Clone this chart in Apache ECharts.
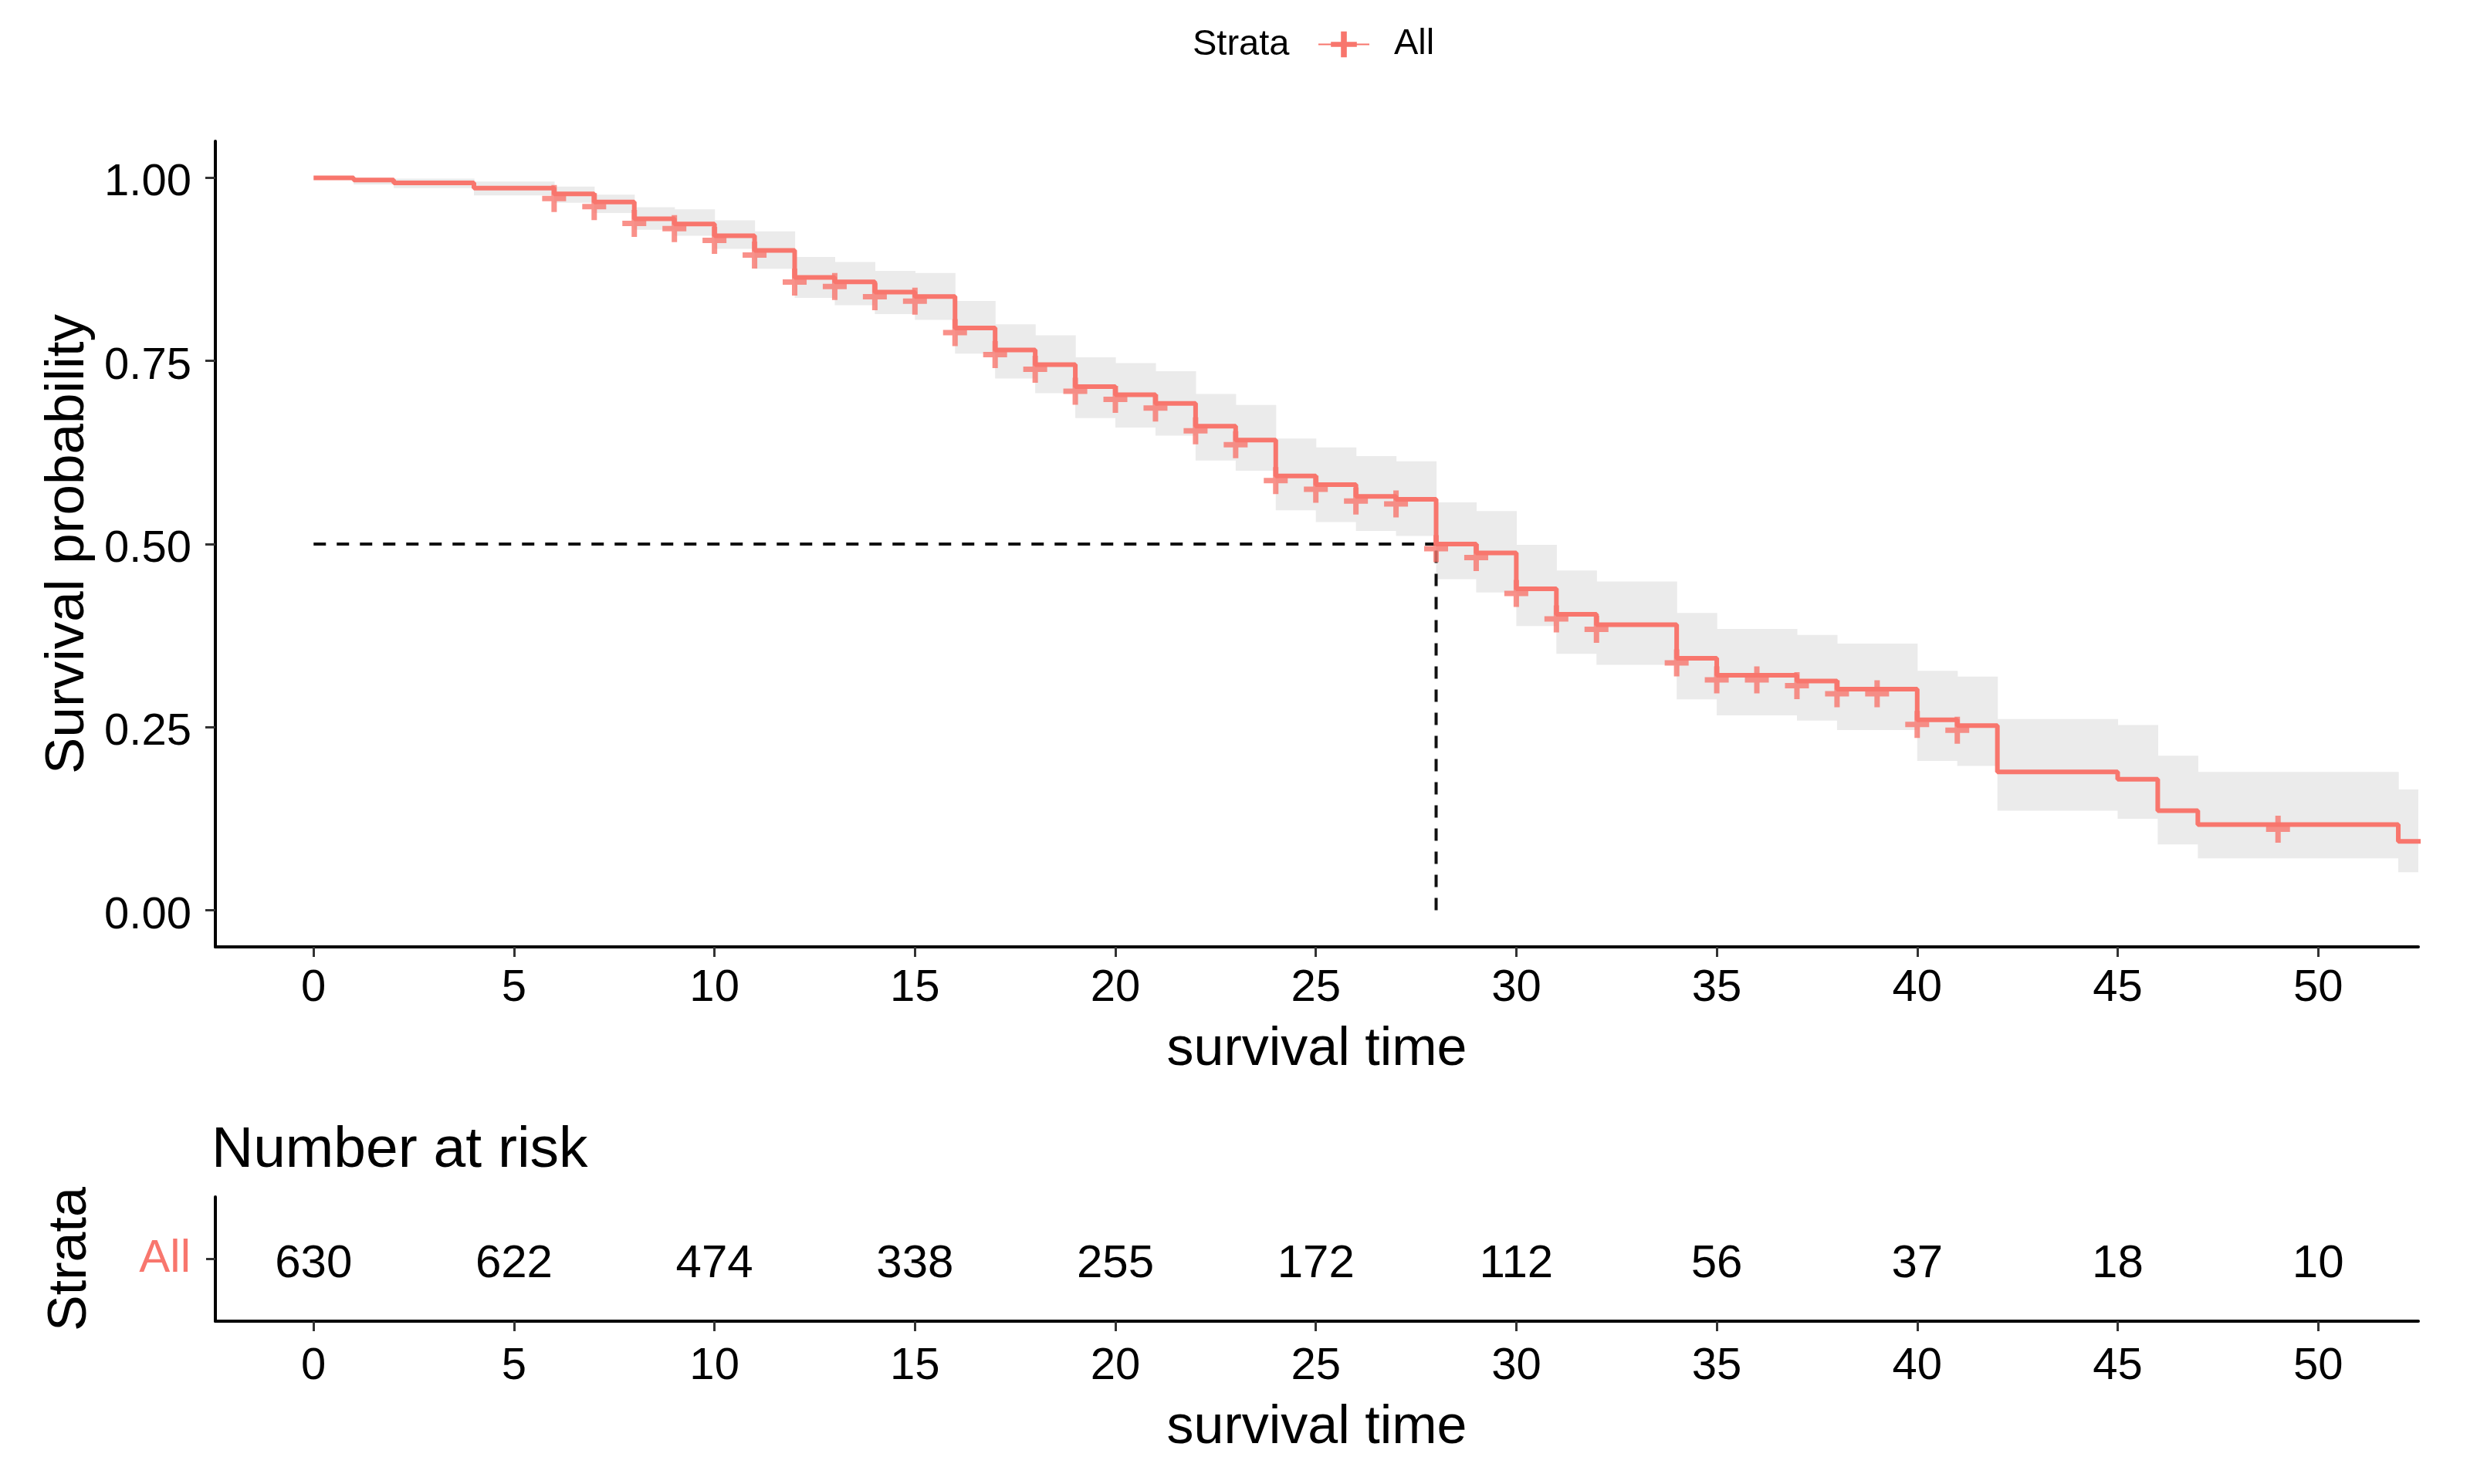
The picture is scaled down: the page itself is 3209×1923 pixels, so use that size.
<!DOCTYPE html>
<html>
<head>
<meta charset="utf-8">
<script src="https://cdn.jsdelivr.net/npm/echarts@6/dist/echarts.min.js"></script>
<style>
  html, body { margin: 0; padding: 0; background: #fff; }
  #chart { width: 3209px; height: 1923px; }
</style>
</head>
<body>
<div id="chart"></div>
<script>
// ---- Data ----
const stepTimes = [0, 1, 2, 4, 6, 7, 8, 9, 10, 11, 12, 13, 14, 15, 16, 17, 18, 19, 20, 21, 22, 23, 24, 25, 26, 27, 28, 29, 30, 31, 32, 34, 35, 37, 38, 40, 41, 42, 45, 46, 47, 52];
const survProb = [1.000, 0.997, 0.993, 0.986, 0.978, 0.967, 0.944, 0.937, 0.921, 0.901, 0.864, 0.858, 0.844, 0.838, 0.795, 0.765, 0.745, 0.715, 0.704, 0.692, 0.661, 0.642, 0.593, 0.581, 0.565, 0.561, 0.500, 0.488, 0.439, 0.404, 0.390, 0.344, 0.321, 0.313, 0.302, 0.260, 0.252, 0.189, 0.179, 0.136, 0.117, 0.094];
const ciUpper = [1.000, 1.000, 0.999, 0.995, 0.988, 0.977, 0.960, 0.957, 0.942, 0.927, 0.892, 0.885, 0.873, 0.870, 0.832, 0.800, 0.785, 0.755, 0.747, 0.736, 0.705, 0.690, 0.644, 0.632, 0.620, 0.613, 0.557, 0.545, 0.499, 0.464, 0.449, 0.406, 0.384, 0.376, 0.364, 0.327, 0.319, 0.261, 0.253, 0.211, 0.189, 0.165];
const ciLower = [1.000, 0.991, 0.986, 0.976, 0.966, 0.952, 0.929, 0.921, 0.903, 0.876, 0.836, 0.826, 0.814, 0.806, 0.760, 0.726, 0.706, 0.672, 0.659, 0.648, 0.614, 0.600, 0.546, 0.530, 0.518, 0.511, 0.452, 0.434, 0.388, 0.350, 0.335, 0.288, 0.266, 0.259, 0.246, 0.204, 0.197, 0.136, 0.125, 0.090, 0.071, 0.052];
const followUpEnd = 53;
const censorTimes = [6, 7, 8, 9, 10, 11, 12, 13, 14, 15, 16, 17, 18, 19, 20, 21, 22, 23, 24, 25, 26, 27, 28, 29, 30, 31, 32, 34, 35, 36, 37, 38, 39, 40, 41, 49];
const medianTime = 28;
const medianSurv = 0.5;

const riskTimes = [0, 5, 10, 15, 20, 25, 30, 35, 40, 45, 50];
const riskCounts = [630, 622, 474, 338, 255, 172, 112, 56, 37, 18, 10];
const strataNames = ['All'];

const xTicks = [0, 5, 10, 15, 20, 25, 30, 35, 40, 45, 50];
const yTicks = [0, 0.25, 0.5, 0.75, 1.0];

// ---- Helpers ----
function survAt(t) {
  let v = survProb[0];
  for (let i = 0; i < stepTimes.length; i++) { if (stepTimes[i] <= t) v = survProb[i]; }
  return v;
}
const COLOR = '#F8766D';
const FONT = "'Liberation Sans', Arial, sans-serif";
const PLUS = 'path://M0,14 L31,14 L31,21 L0,21 Z M12,0 L19,0 L19,35 L12,35 Z';

const lineData = stepTimes.map((t, i) => [t, survProb[i]]).concat([[followUpEnd, survProb[survProb.length - 1]]]);
const bandData = stepTimes.map((t, i) => [t, i + 1 < stepTimes.length ? stepTimes[i + 1] : followUpEnd, ciLower[i], ciUpper[i]]);
const censorData = censorTimes.map(t => [t, survAt(t)]);
const riskData = riskTimes.map((t, i) => [t, strataNames[0], riskCounts[i]]);

const chart = echarts.init(document.getElementById('chart'), null, { renderer: 'canvas' });

const axisLineStyle = { color: '#000', width: 4 };
const tickStyle = { color: '#333', width: 3 };

chart.setOption({
  animation: false,
  backgroundColor: '#fff',
  textStyle: { fontFamily: FONT },
  title: [
    { text: 'Strata', left: 1545, top: 35, padding: 0,
      textStyle: { fontFamily: FONT, fontSize: 47, fontWeight: 'normal', color: '#000' } },
    { text: 'Number at risk', left: 274, top: 1454, padding: 0,
      textStyle: { fontFamily: FONT, fontSize: 75, fontWeight: 'normal', color: '#000' } }
  ],
  legend: {
    data: ['All'],
    left: 1707, top: 34, padding: 0,
    itemWidth: 66, itemHeight: 42,
    selectedMode: false,
    textStyle: { fontFamily: FONT, fontSize: 47, color: '#000', padding: [8, 0, 0, 27] }
  },
  grid: [
    { left: 279, top: 183, width: 2854, height: 1044 },
    { left: 279, top: 1551, width: 2854, height: 161 }
  ],
  xAxis: [
    {
      type: 'value', gridIndex: 0, min: -2.45, max: 52.5,
      axisLine: { show: true, onZero: false, lineStyle: axisLineStyle },
      axisTick: { show: true, customValues: xTicks, length: 13, lineStyle: tickStyle },
      axisLabel: { customValues: xTicks, fontSize: 58, color: '#000', margin: 25, fontFamily: FONT },
      splitLine: { show: false },
      name: 'survival time', nameLocation: 'middle', nameGap: 99,
      nameTextStyle: { fontSize: 70, color: '#000', fontFamily: FONT }
    },
    {
      type: 'value', gridIndex: 1, min: -2.45, max: 52.5,
      axisLine: { show: true, onZero: false, lineStyle: axisLineStyle },
      axisTick: { show: true, customValues: xTicks, length: 13, lineStyle: tickStyle },
      axisLabel: { customValues: xTicks, fontSize: 58, color: '#000', margin: 30, fontFamily: FONT },
      splitLine: { show: false },
      name: 'survival time', nameLocation: 'middle', nameGap: 104,
      nameTextStyle: { fontSize: 70, color: '#000', fontFamily: FONT }
    }
  ],
  yAxis: [
    {
      type: 'value', gridIndex: 0, min: -0.05, max: 1.05,
      axisLine: { show: true, onZero: false, lineStyle: axisLineStyle },
      axisTick: { show: true, customValues: yTicks, length: 13, lineStyle: tickStyle },
      axisLabel: { customValues: yTicks, fontSize: 58, color: '#000', margin: 31, fontFamily: FONT,
                   verticalAlign: 'top', lineHeight: 14,
                   formatter: v => Number(v).toFixed(2) },
      splitLine: { show: false },
      name: 'Survival probability', nameLocation: 'middle', nameRotate: 90, nameGap: 149,
      nameTextStyle: { fontSize: 71, color: '#000', fontFamily: FONT }
    },
    {
      type: 'category', gridIndex: 1, data: strataNames,
      axisLine: { show: true, onZero: false, lineStyle: axisLineStyle },
      axisTick: { show: true, alignWithLabel: true, length: 12, lineStyle: tickStyle },
      axisLabel: { fontSize: 60, color: COLOR, margin: 32, fontFamily: FONT },
      splitLine: { show: false },
      name: 'Strata', nameLocation: 'middle', nameRotate: 90, nameGap: 152,
      nameTextStyle: { fontSize: 70, color: '#000', fontFamily: FONT }
    }
  ],
  series: [
    {
      type: 'custom', name: 'CI', xAxisIndex: 0, yAxisIndex: 0, z: 1, silent: true,
      data: bandData,
      encode: { x: [0, 1], y: [2, 3] },
      renderItem: function (params, api) {
        const p1 = api.coord([api.value(0), api.value(3)]);
        const p2 = api.coord([api.value(1), api.value(2)]);
        const cs = params.coordSys;
        const rect = echarts.graphic.clipRectByRect(
          { x: p1[0], y: p1[1], width: p2[0] - p1[0] + 0.6, height: p2[1] - p1[1] },
          { x: cs.x, y: cs.y, width: cs.width, height: cs.height });
        return rect && { type: 'rect', shape: rect, style: { fill: '#ebebeb' } };
      }
    },
    {
      type: 'line', name: 'median-h', xAxisIndex: 0, yAxisIndex: 0, z: 2, silent: true,
      data: [[0, medianSurv], [medianTime, medianSurv]],
      showSymbol: false, symbol: 'none',
      lineStyle: { color: '#111', width: 4, type: [16, 14] }
    },
    {
      type: 'line', name: 'median-v', xAxisIndex: 0, yAxisIndex: 0, z: 2, silent: true,
      data: [[medianTime, 0], [medianTime, medianSurv]],
      showSymbol: false, symbol: 'none',
      lineStyle: { color: '#111', width: 4, type: [16, 14] }
    },
    {
      type: 'line', name: 'All', xAxisIndex: 0, yAxisIndex: 0, z: 3, silent: true,
      data: lineData, step: 'end',
      symbol: PLUS, showSymbol: false, symbolSize: [31, 35],
      itemStyle: { color: COLOR },
      lineStyle: { color: COLOR, width: 6 }
    },
    {
      type: 'scatter', name: 'censor', xAxisIndex: 0, yAxisIndex: 0, z: 4, silent: true,
      data: censorData,
      symbol: PLUS, symbolSize: [31, 35], symbolOffset: [0, 6],
      itemStyle: { color: COLOR }
    },
    {
      type: 'scatter', name: 'risk', xAxisIndex: 1, yAxisIndex: 1, z: 4, silent: true,
      data: riskData,
      symbolSize: 2, itemStyle: { color: 'rgba(0,0,0,0)' },
      label: { show: true, position: 'inside', offset: [0, 7], formatter: p => String(p.value[2]),
               fontSize: 60, color: '#000', opacity: 1, textBorderWidth: 0, fontFamily: FONT }
    }
  ]
});
</script>
</body>
</html>
